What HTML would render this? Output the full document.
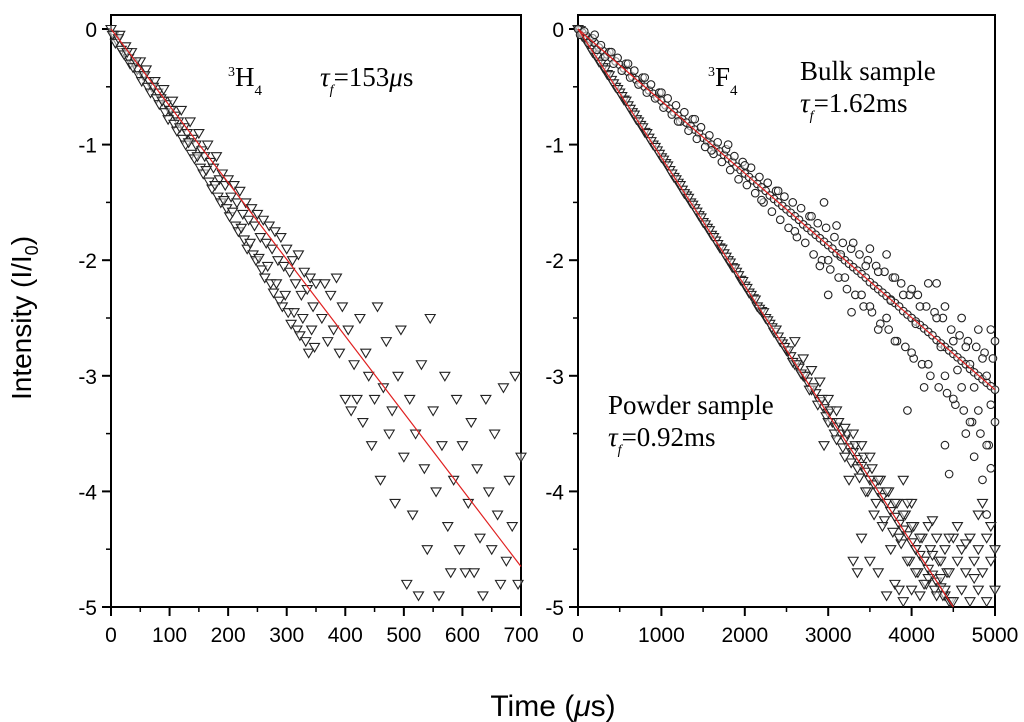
<!DOCTYPE html>
<html><head><meta charset="utf-8"><style>
body{margin:0;background:#fff;width:1024px;height:722px;overflow:hidden}
svg{display:block}
.tk{font-family:"Liberation Sans",sans-serif;font-size:21px;fill:#000}
.ser{font-family:"Liberation Serif",serif;font-size:27px;fill:#000}
</style></head><body>
<svg id="chart" width="1024" height="722" xmlns="http://www.w3.org/2000/svg">
<g id="g"></g>
<text class="ser" x="228" y="86"><tspan font-size="14" dy="-10">3</tspan><tspan dy="10">H</tspan><tspan font-size="15" dy="9">4</tspan></text>
<text class="ser" x="320" y="86"><tspan font-style="italic">τ</tspan><tspan font-size="14" font-style="italic" dy="8">f</tspan><tspan dy="-8">=153</tspan><tspan font-style="italic">μ</tspan>s</text>
<text class="ser" x="708" y="86"><tspan font-size="14" dy="-10">3</tspan><tspan dy="10">F</tspan><tspan font-size="15" dy="9">4</tspan></text>
<text class="ser" x="800" y="80">Bulk sample</text>
<text class="ser" x="800" y="112"><tspan font-style="italic">τ</tspan><tspan font-size="14" font-style="italic" dy="8">f</tspan><tspan dy="-8">=1.62ms</tspan></text>
<text class="ser" x="608" y="414">Powder sample</text>
<text class="ser" x="608" y="446"><tspan font-style="italic">τ</tspan><tspan font-size="14" font-style="italic" dy="8">f</tspan><tspan dy="-8">=0.92ms</tspan></text>
<text x="31" y="318" transform="rotate(-90 31 318)" text-anchor="middle" font-family="Liberation Sans,sans-serif" font-size="28">Intensity (I/I<tspan font-size="18" dy="7">0</tspan><tspan dy="-7">)</tspan></text>
<text x="553" y="716" text-anchor="middle" font-family="Liberation Sans,sans-serif" font-size="30">Time (<tspan font-style="italic">μ</tspan>s)</text>
</svg>
<script>
const leftT=[0,5,10,15,20,25,30,35,40,45,50,55,60,65,70,75,80,85,90,95,100,105,110,115,120,125,130,135,140,145,150,155,160,165,170,175,180,185,190,195,200,205,210,215,220,225,230,235,240,245,250,255,260,265,270,275,280,285,290,295,300,305,310,315,320,325,330,335,340,345,350,360,365,370,375,380,385,390,395,400,405,410,415,420,425,430,435,440,445,450,455,460,465,470,475,480,485,490,495,500,505,510,515,520,525,530,535,540,545,550,555,560,565,570,575,580,585,590,595,600,605,610,615,620,625,630,635,640,645,650,655,660,665,670,675,680,685,690,695,700];
const leftV=[0,-0.05,-0.1,-0.05,-0.2,-0.15,-0.25,-0.2,-0.3,-0.35,-0.28,-0.4,-0.35,-0.45,-0.5,-0.45,-0.55,-0.6,-0.52,-0.65,-0.7,-0.62,-0.75,-0.8,-0.7,-0.85,-0.9,-0.8,-0.95,-1.0,-0.9,-1.05,-1.1,-1.0,-1.15,-1.2,-1.1,-1.3,-1.25,-1.35,-1.3,-1.45,-1.35,-1.5,-1.4,-1.6,-1.5,-1.65,-1.55,-1.7,-1.6,-1.8,-1.65,-1.85,-1.7,-1.9,-1.75,-2.0,-1.8,-2.05,-1.9,-2.1,-2.0,-2.2,-1.95,-2.3,-2.1,-2.25,-2.15,-2.4,-2.2,-2.5,-2.2,-2.7,-2.3,-2.6,-2.15,-2.8,-2.4,-3.2,-2.6,-3.3,-2.9,-3.2,-2.5,-3.4,-2.8,-3.0,-3.6,-3.2,-2.4,-3.9,-3.1,-2.7,-3.5,-3.3,-4.1,-3.0,-2.6,-3.7,-4.8,-3.2,-4.2,-3.5,-4.9,-2.9,-3.8,-4.5,-2.5,-3.3,-4.0,-4.9,-3.6,-3.0,-4.3,-4.7,-3.9,-3.2,-4.5,-3.6,-4.7,-4.1,-3.4,-4.7,-3.8,-4.4,-4.9,-3.2,-4.0,-4.5,-3.5,-4.2,-4.8,-3.1,-4.6,-3.9,-4.3,-3.0,-4.8,-3.7];
// second sweep, t = 2.5 + 5*i
const leftV2=[-0.05,-0.12,-0.08,-0.18,-0.22,-0.2,-0.3,-0.33,-0.28,-0.4,-0.45,-0.4,-0.5,-0.55,-0.5,-0.6,-0.65,-0.62,-0.72,-0.78,-0.7,-0.82,-0.88,-0.85,-0.95,-1.0,-0.98,-1.08,-1.12,-1.1,-1.2,-1.25,-1.22,-1.32,-1.38,-1.35,-1.45,-1.5,-1.48,-1.55,-1.62,-1.58,-1.7,-1.75,-1.72,-1.82,-1.9,-1.85,-1.95,-2.0,-1.98,-2.08,-2.15,-2.05,-2.2,-2.28,-2.2,-2.35,-2.4,-2.3,-2.45,-2.55,-2.45,-2.6,-2.65,-2.5,-2.7,-2.8,-2.6,-2.75];
const leftFit=[[0,0],[700,-4.65]];
// t = 50*i
const powderV=[0,-0.06,-0.1,-0.17,-0.22,-0.28,-0.33,-0.39,-0.44,-0.5,-0.55,-0.61,-0.66,-0.72,-0.78,-0.83,-0.89,-0.94,-1.0,-1.05,-1.11,-1.16,-1.22,-1.28,-1.33,-1.39,-1.44,-1.5,-1.55,-1.61,-1.67,-1.72,-1.78,-1.83,-1.89,-1.94,-2.0,-2.06,-2.1,-2.17,-2.22,-2.28,-2.33,-2.4,-2.44,-2.5,-2.55,-2.62,-2.66,-2.72,-2.78,-2.83,-2.9,-2.93,-3.0,-3.05,-3.12,-3.15,-3.22,-3.28,-3.32,-3.4,-3.44,-3.5,-3.55,-3.62,-3.66,-3.72,-3.78,-3.83,-3.9,-3.94,-4.0,-4.05,-4.1,-4.17,-4.22,-4.28,-4.33,-4.38,-4.44,-4.5,-4.55,-4.6,-4.67,-4.72,-4.78,-4.83,-4.9,-4.95];
// t = 25 + 50*i
const powderV2=[-0.01,-0.08,-0.12,-0.2,-0.24,-0.3,-0.35,-0.4,-0.47,-0.52,-0.58,-0.62,-0.69,-0.74,-0.8,-0.85,-0.9,-0.97,-1.02,-1.08,-1.13,-1.18,-1.25,-1.3,-1.35,-1.42,-1.46,-1.52,-1.58,-1.63,-1.69,-1.74,-1.8,-1.86,-1.9,-1.97,-2.02,-2.07,-2.13,-2.18,-2.24,-2.3,-2.34,-2.42,-2.45,-2.52,-2.58,-2.6,-2.7,-2.75,-2.78,-2.88,-2.9,-2.98,-3.0,-3.12,-3.1,-3.25,-3.2,-3.35,-3.3,-3.5,-3.4,-3.62,-3.5,-3.75,-3.6,-3.88,-3.7,-4.0,-3.8,-4.1,-3.9,-4.25,-4.0,-4.35,-4.1,-4.45,-4.2,-4.6,-4.3,-4.7,-4.4,-4.8,-4.5,-4.85,-4.6,-4.9,-4.7,-4.95];
const powderScatter=[[2600,-2.7],[2700,-2.85],[2800,-2.95],[2900,-3.05],[2950,-3.6],[3000,-3.2],[3100,-3.3],[3200,-3.45],[3250,-3.9],[3300,-3.5],[3350,-3.8],[3400,-3.6],[3400,-4.4],[3450,-4.0],[3500,-3.7],[3500,-4.6],[3550,-4.2],[3600,-3.9],[3600,-4.7],[3650,-4.3],[3700,-4.0],[3700,-4.9],[3750,-4.5],[3800,-4.1],[3800,-4.8],[3850,-4.4],[3900,-4.2],[3900,-4.95],[3950,-4.6],[4000,-4.3],[4000,-4.85],[4050,-4.5],[4100,-4.4],[4100,-4.9],[4150,-4.6],[4200,-4.3],[4200,-4.75],[4250,-4.55],[4300,-4.4],[4300,-4.9],[4350,-4.6],[4400,-4.5],[4400,-4.85],[4450,-4.7],[4500,-4.4],[4500,-4.95],[4550,-4.6],[4600,-4.5],[4600,-4.85],[4650,-4.7],[4700,-4.4],[4700,-4.95],[4750,-4.6],[4800,-4.5],[4800,-4.85],[4850,-4.7],[4900,-4.4],[4900,-4.95],[4950,-4.6],[5000,-4.5],[5000,-4.85],[4800,-4.2],[4850,-4.1],[4950,-4.3],[3300,-4.6],[3350,-4.7],[4000,-4.1],[3900,-3.9],[3000,-3.4],[3100,-3.55],[3200,-3.7],[4550,-4.3],[4650,-4.45],[4750,-4.75],[4450,-4.4],[4350,-4.75],[4250,-4.25],[4150,-4.8],[4050,-4.7],[3950,-4.1],[3850,-4.85]];
// t = 50*i
const bulkV=[0,-0.03,-0.06,-0.09,-0.12,-0.16,-0.19,-0.22,-0.25,-0.28,-0.31,-0.34,-0.37,-0.41,-0.44,-0.47,-0.5,-0.53,-0.56,-0.59,-0.62,-0.66,-0.69,-0.72,-0.75,-0.78,-0.81,-0.84,-0.87,-0.9,-0.94,-0.97,-1.0,-1.03,-1.06,-1.09,-1.12,-1.15,-1.19,-1.22,-1.25,-1.28,-1.31,-1.34,-1.37,-1.4,-1.44,-1.47,-1.5,-1.53,-1.56,-1.59,-1.62,-1.65,-1.69,-1.72,-1.75,-1.78,-1.81,-1.84,-1.87,-1.9,-1.94,-1.97,-2.0,-2.03,-2.06,-2.09,-2.12,-2.15,-2.19,-2.22,-2.25,-2.28,-2.31,-2.34,-2.37,-2.4,-2.44,-2.47,-2.5,-2.53,-2.56,-2.59,-2.62,-2.65,-2.69,-2.72,-2.75,-2.78,-2.81,-2.84,-2.87,-2.9,-2.94,-2.97,-3.0,-3.03,-3.06,-3.09,-3.12];
// t = 25 + 50*i
const bulkV2=[-0.05,-0.02,-0.12,-0.08,-0.18,-0.14,-0.24,-0.2,-0.3,-0.25,-0.36,-0.3,-0.42,-0.36,-0.48,-0.42,-0.55,-0.48,-0.6,-0.55,-0.68,-0.6,-0.74,-0.66,-0.8,-0.72,-0.88,-0.78,-0.95,-0.85,-1.02,-0.92,-1.08,-0.98,-1.15,-1.04,-1.22,-1.1,-1.3,-1.15,-1.35,-1.2,-1.42,-1.28,-1.5,-1.33,-1.58,-1.4,-1.65,-1.45,-1.72,-1.5,-1.8,-1.55,-1.85,-1.62,-1.95,-1.68,-2.0,-1.72,-2.08,-1.8,-2.15,-1.85,-2.25,-1.9,-2.3,-1.95,-2.4,-2.0,-2.45,-2.05,-2.55,-2.1,-2.6,-2.15,-2.7,-2.2,-2.75,-2.3,-2.85,-2.3,-2.9,-2.4,-3.0,-2.45,-3.1,-2.5,-3.15,-2.6,-3.25,-2.65,-3.3,-2.7,-3.4,-2.75,-3.5,-2.8,-3.6,-2.85];
const bulkScatter=[[200,-0.05],[400,-0.2],[600,-0.3],[800,-0.42],[1000,-0.55],[1200,-0.8],[1400,-0.78],[1600,-1.05],[1800,-1.0],[2000,-1.18],[2200,-1.48],[2400,-1.4],[2600,-1.75],[2800,-1.62],[3000,-2.0],[3000,-2.3],[3100,-1.7],[3200,-2.15],[3300,-1.85],[3400,-2.3],[3500,-1.9],[3500,-2.4],[3600,-2.1],[3700,-2.5],[3700,-1.95],[3800,-2.15],[3800,-2.7],[3900,-2.3],[4000,-2.25],[4000,-2.8],[4100,-2.4],[4200,-2.2],[4200,-2.9],[4300,-2.5],[4400,-2.4],[4400,-3.0],[4500,-2.7],[4500,-3.2],[4600,-2.5],[4600,-3.1],[4700,-2.9],[4700,-3.4],[4800,-2.6],[4800,-3.3],[4900,-3.0],[4900,-3.6],[5000,-2.7],[5000,-3.4],[4950,-3.8],[4400,-3.6],[4650,-3.5],[3950,-3.3],[4150,-3.1],[3280,-2.45],[4450,-3.85],[4900,-4.2],[4850,-3.9],[4750,-3.7],[2950,-1.5],[3600,-2.6],[4300,-2.2],[4950,-2.6],[2900,-2.05],[3150,-1.95],[3450,-2.05],[3750,-2.35],[4050,-2.55],[4350,-2.75],[4550,-2.95],[4750,-3.1],[4950,-3.25],[4850,-2.85],[4650,-2.75]];
const powderFit=[[0,0],[4500,-5]];
const bulkFit=[[0,0],[5000,-3.12]];
const yTicks=[0,-1,-2,-3,-4,-5];
const leftXTicks=[0,100,200,300,400,500,600,700];
const rightXTicks=[0,1000,2000,3000,4000,5000];

const NS="http://www.w3.org/2000/svg";
const g=document.getElementById('g');
const Y0=29,Y5=607;
function ys(v){return Y0+(Y5-Y0)*(-v)/5;}
const L={x0:111,x1:521,max:700,top:15},R={x0:578,x1:995,max:5000,top:15};
function xs(p,t){return p.x0+(p.x1-p.x0)*t/p.max;}
function mk(tag,at,par){const e=document.createElementNS(NS,tag);for(const k in at)e.setAttribute(k,at[k]);(par||g).appendChild(e);return e;}
function tri(p,t,v,par){const x=xs(p,t),y=ys(v);if(y>Y5+2||x>p.x1+2)return;
 const e=mk('polygon',{points:`${x-5},${y-3.5} ${x+5},${y-3.5} ${x},${y+5}`,fill:'#fff','fill-opacity':'0.5',stroke:'#222','stroke-width':'1.1'},par);
 
 }
function circ(p,t,v,par){const x=xs(p,t),y=ys(v);
 const e=mk('circle',{cx:x,cy:y,r:3.8,fill:'#fff','fill-opacity':'0.5',stroke:'#222','stroke-width':'1.1'},par);
 
 }
function axes(p,xt,name,minorStep){
 const fr=mk('rect',{x:p.x0,y:p.top,width:p.x1-p.x0,height:Y5-p.top,fill:'none',stroke:'#000','stroke-width':2});
 
 
 yTicks.forEach(v=>{const y=ys(v);mk('line',{x1:p.x0-9,x2:p.x0,y1:y,y2:y,stroke:'#000','stroke-width':2});
  const t=mk('text',{x:p.x0-14,y:y+8,'text-anchor':'end',class:'tk'});t.textContent=v;
  
  
  if(v>-5){const ym=ys(v-0.5);mk('line',{x1:p.x0-5,x2:p.x0,y1:ym,y2:ym,stroke:'#000','stroke-width':1.5});}});
 xt.forEach((v,i)=>{const x=xs(p,v);mk('line',{x1:x,x2:x,y1:Y5,y2:Y5+9,stroke:'#000','stroke-width':2});
  const t=mk('text',{x:x,y:Y5+35,'text-anchor':'middle',class:'tk'});t.textContent=v;
  
  
  if(i<xt.length-1){const xm=xs(p,v+minorStep);mk('line',{x1:xm,x2:xm,y1:Y5,y2:Y5+5,stroke:'#000','stroke-width':1.5});}});
}
axes(L,leftXTicks,'left-panel',50);
axes(R,rightXTicks,'right-panel',500);
const gl=mk('g',{});
leftT.forEach((t,i)=>tri(L,t,leftV[i],gl));
leftV2.forEach((v,i)=>tri(L,2.5+5*i,v,gl));
const gp=mk('g',{});
powderV.forEach((v,i)=>tri(R,i*50,v,gp));
powderV2.forEach((v,i)=>tri(R,25+i*50,v,gp));
powderScatter.forEach(p=>tri(R,p[0],p[1],gp));
const gb=mk('g',{});
bulkV.forEach((v,i)=>circ(R,i*50,v,gb));
bulkV2.forEach((v,i)=>circ(R,25+i*50,v,gb));
bulkScatter.forEach(p=>circ(R,p[0],p[1],gb));
function fit(p,f,name){const e=mk('line',{x1:xs(p,f[0][0]),y1:ys(f[0][1]),x2:xs(p,f[1][0]),y2:ys(f[1][1]),stroke:'#e02020','stroke-width':1.2});
 
 }
fit(L,leftFit,'h4-fit-line');fit(R,powderFit,'powder-fit-line');fit(R,bulkFit,'bulk-fit-line');
</script>
</body></html>
